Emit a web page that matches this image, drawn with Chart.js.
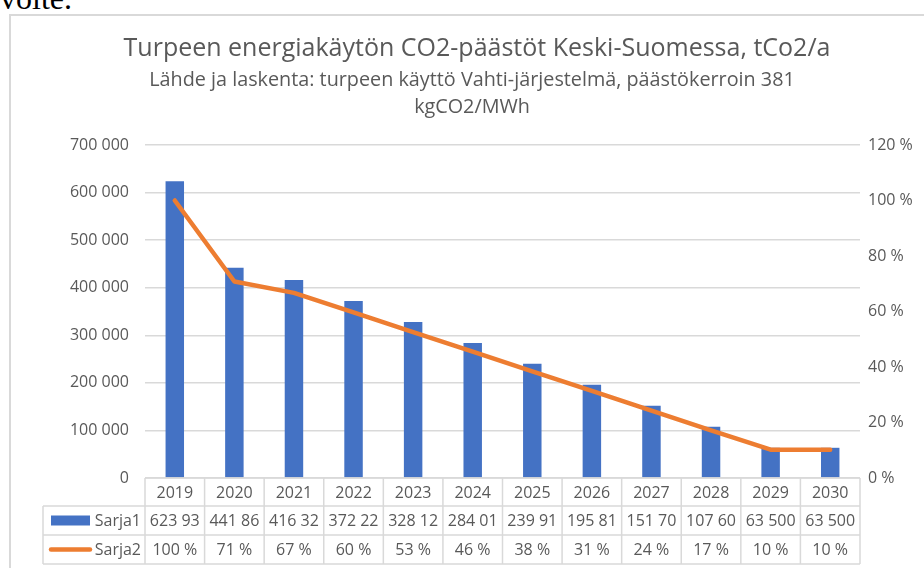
<!DOCTYPE html>
<html>
<head>
<meta charset="utf-8">
<script src="https://cdn.jsdelivr.net/npm/chart.js@4.4.0/dist/chart.umd.min.js"></script>
<style>
html, body { margin: 0; padding: 0; background: #fff; width: 924px; height: 568px; overflow: hidden; }
#doc { position: absolute; left: 0; top: -18px; font-family: "Liberation Serif", "DejaVu Serif", serif; font-size: 32px; line-height: 32px; color: #000; }
#frame { position: absolute; left: 9px; top: 14px; width: 960px; height: 600px; border-left: 2px solid #d9d9d9; border-top: 2px solid #d9d9d9; }
#wrap { position: absolute; left: 0; top: 0; width: 924px; height: 568px; }
#myChart { display: block; }
</style>
</head>
<body>
<div id="doc">voite.</div>
<div id="frame"></div>
<div id="wrap"><canvas id="myChart" width="924" height="568"></canvas></div>
<script>
const titleText = 'Turpeen energiakäytön CO2-päästöt Keski-Suomessa, tCo2/a'
const subtitleLines = ['Lähde ja laskenta: turpeen käyttö Vahti-järjestelmä, päästökerroin 381', 'kgCO2/MWh']

const years = ['2019', '2020', '2021', '2022', '2023', '2024', '2025', '2026', '2027', '2028', '2029', '2030']
const sarja1 = [623930, 441860, 416320, 372220, 328120, 284010, 239910, 195810, 151700, 107600, 63500, 63500]
const sarja2 = [1.00, 0.708, 0.667, 0.597, 0.526, 0.455, 0.384, 0.314, 0.243, 0.172, 0.102, 0.102]
const seriesNames = ['Sarja1', 'Sarja2']

const grey = '#595959'
const lineGrey = '#d9d9d9'
const blue = '#4472c4'
const orange = '#ed7d31'
const font = '"Open Sans", "Noto Sans", sans-serif'

function fmtNum(v) {
    return String(Math.round(v)).replace(/\B(?=(\d{3})+(?!\d))/g, ' ')
}
function fmtPct(v) {
    return Math.round(v * 100) + ' %'
}

// titles + data table under the plot
const tablePlugin = {
    id: 'tablePlugin',
    afterDraw(chart) {
        const ctx = chart.ctx
        const area = chart.chartArea
        const n = years.length
        const colW = (area.right - area.left) / n
        const rowH = [28, 29, 29]
        const y0 = area.bottom
        const y1 = y0 + rowH[0]
        const y2 = y1 + rowH[1]
        const y3 = y2 + rowH[2]
        const legL = 43

        ctx.save()
        ctx.fillStyle = grey
        ctx.textAlign = 'center'
        ctx.textBaseline = 'middle'
        ctx.font = '25px ' + font
        ctx.fillText(titleText, 477, 49)
        ctx.font = '19.8px ' + font
        ctx.fillText(subtitleLines[0], 472, 80)
        ctx.fillText(subtitleLines[1], 472, 107)

        // grid of the table
        ctx.strokeStyle = lineGrey
        ctx.lineWidth = 1.5
        ctx.beginPath()
        ctx.moveTo(area.left, y0); ctx.lineTo(area.right, y0)
        ctx.moveTo(legL, y1); ctx.lineTo(area.right, y1)
        ctx.moveTo(legL, y2); ctx.lineTo(area.right, y2)
        ctx.moveTo(legL, y3); ctx.lineTo(area.right, y3)
        ctx.moveTo(legL, y1); ctx.lineTo(legL, y3)
        for (let i = 0; i <= n; i++) {
            const x = area.left + i * colW
            ctx.moveTo(x, y0); ctx.lineTo(x, y3)
        }
        ctx.stroke()

        ctx.font = '16px ' + font
        ctx.fillStyle = grey
        for (let i = 0; i < n; i++) {
            const cx = chart.scales.x.getPixelForValue(i)
            ctx.fillText(years[i], cx, (y0 + y1) / 2 + 1)
            let t = fmtNum(sarja1[i])
            while (ctx.measureText(t).width > colW - 6) t = t.slice(0, -1)
            ctx.fillText(t.trim(), cx, (y1 + y2) / 2 + 1)
            ctx.fillText(fmtPct(sarja2[i]), cx, (y2 + y3) / 2 + 1)
        }

        // legend keys
        ctx.textAlign = 'right'
        ctx.fillText(seriesNames[0], area.left - 4, (y1 + y2) / 2 + 1)
        ctx.fillText(seriesNames[1], area.left - 4, (y2 + y3) / 2 + 1)
        ctx.fillStyle = blue
        ctx.fillRect(51, (y1 + y2) / 2 - 5, 39, 10)
        ctx.strokeStyle = orange
        ctx.lineWidth = 4.5
        ctx.lineCap = 'round'
        ctx.beginPath()
        ctx.moveTo(51, (y2 + y3) / 2)
        ctx.lineTo(90, (y2 + y3) / 2)
        ctx.stroke()
        ctx.restore()
    }
}

const ctx = document.getElementById('myChart').getContext('2d')
const myChart = new Chart(ctx, {
    type: 'bar',
    data: {
        labels: years,
        datasets: [{
            label: seriesNames[1],
            type: 'line',
            data: sarja2,
            yAxisID: 'y1',
            borderColor: orange,
            borderWidth: 4.5,
            borderCapStyle: 'round',
            borderJoinStyle: 'round',
            pointRadius: 0,
            tension: 0,
            order: 0
        }, {
            label: seriesNames[0],
            data: sarja1,
            yAxisID: 'y',
            backgroundColor: blue,
            categoryPercentage: 1,
            barPercentage: 0.31,
            order: 1
        }]
    },
    options: {
        responsive: false,
        animation: false,
        devicePixelRatio: 1,
        layout: { padding: { top: 145, bottom: 90, left: 0, right: 0 } },
        plugins: {
            legend: { display: false },
            tooltip: { enabled: false }
        },
        scales: {
            x: { display: false },
            y: {
                position: 'left',
                min: 0,
                max: 700000,
                ticks: {
                    stepSize: 100000,
                    padding: 16,
                    color: grey,
                    font: { family: font, size: 16 },
                    callback: v => fmtNum(v)
                },
                grid: { color: lineGrey, lineWidth: 1.5, drawTicks: false },
                border: { display: false },
                afterFit: s => { s.width = 145 }
            },
            y1: {
                position: 'right',
                min: 0,
                max: 1.2,
                ticks: {
                    stepSize: 0.2,
                    padding: 8,
                    color: grey,
                    font: { family: font, size: 16 },
                    callback: v => fmtPct(v)
                },
                grid: { display: false, drawTicks: false },
                border: { display: false },
                afterFit: s => { s.width = 64 }
            }
        }
    },
    plugins: [tablePlugin]
})
</script>
</body>
</html>
